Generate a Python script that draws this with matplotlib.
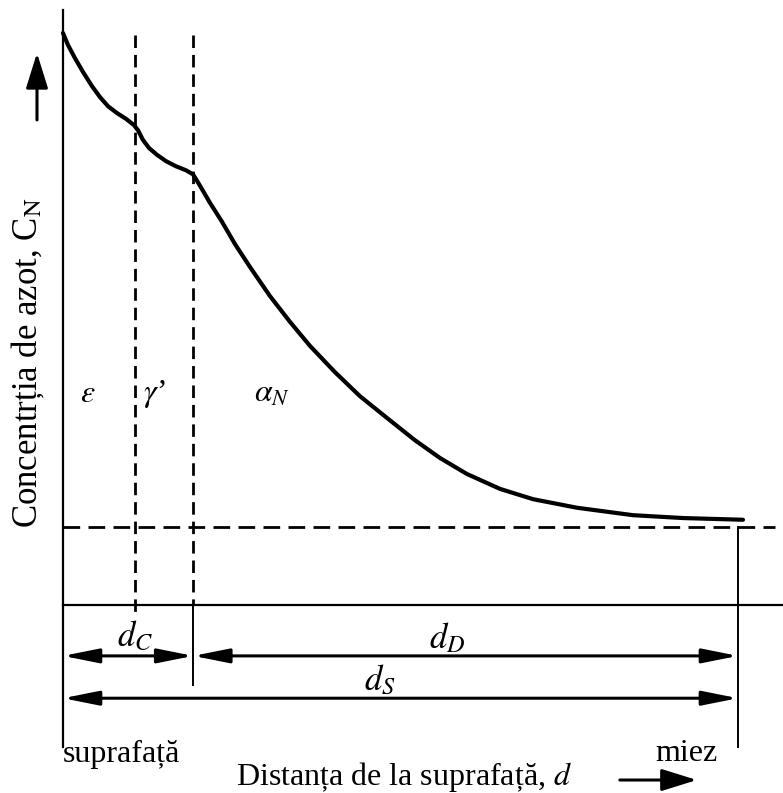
import numpy as np
import matplotlib
matplotlib.use("Agg")
import matplotlib.pyplot as plt

plt.rcParams['font.family'] = ['Liberation Serif', 'DejaVu Serif']
plt.rcParams['mathtext.fontset'] = 'stix'

# nitrogen profile: distance from surface (d_S = 100) vs concentration (surface = 100)
distance = [0, 0.74, 1.78, 2.96, 4.30, 5.48, 6.67, 8.0, 9.33, 10.52,
            11.11, 11.85, 12.74, 13.93, 15.26, 16.74, 18.22, 19.26,
            20.3, 21.78, 23.56, 25.48, 27.7, 30.67, 33.63, 36.59, 40.3, 44.0,
            48.0, 52.15, 55.85, 59.85, 64.74, 69.63, 76.15, 84.44, 91.85, 100.74]
concentration = [100.0, 97.9, 95.6, 93.2, 90.7, 88.8, 87.2, 86.0, 85.0, 83.9,
                 83.0, 81.3, 79.9, 78.7, 77.6, 76.7, 76.0, 75.3,
                 73.3, 70.3, 67.0, 63.1, 59.1, 54.0, 49.5, 45.3, 40.7, 36.5,
                 32.7, 28.8, 25.7, 22.9, 20.3, 18.5, 17.0, 15.7, 15.2, 14.9]

d_eps = 10.6      # end of epsilon layer
d_comp = 19.3     # end of compound layer (d_C)
d_core = 100.0    # d_S
c_core = 13.6     # core concentration

phases = ['$\\varepsilon$', '$\\gamma$’', '$\\alpha_N$']
phase_x = [3.7, 13.6, 31.0]

fig = plt.figure(figsize=(7.83, 7.93), dpi=100)
ax = fig.add_axes([0, 0, 1, 1])
ax.set_xlim(-9.33, 106.67)
ax.set_ylim(-32.87, 105.77)
ax.axis('off')

k = dict(color='black')

# axes of the sketch
ax.plot([0, 0], [104, -24.8], lw=1.6, **k)
ax.plot([0, 106.67], [0, 0], lw=1.6, **k)
ax.plot([d_core, d_core], [c_core, -24.8], lw=1.4, **k)
ax.plot([0, 105.5], [c_core, c_core], lw=2, ls=(0, (6, 3)), **k)

# layer boundaries
ax.plot([d_eps, d_eps], [99.7, -1.7], lw=2, ls=(0, (4.5, 2.5)), **k)
ax.plot([d_comp, d_comp], [99.7, 0], lw=2, ls=(0, (4.5, 2.5)), **k)
ax.plot([d_comp, d_comp], [0, -14], lw=1.4, **k)

# profile
ax.plot(distance, concentration, lw=3, solid_capstyle='round', solid_joinstyle='round', **k)

for lab, x in zip(phases, phase_x):
    ax.text(x, 36.8, lab, fontsize=23, ha='center', va='center')

# dimension arrows
dim = dict(arrowstyle='<|-|>,head_length=0.8,head_width=0.16', lw=2.2, color='black',
           mutation_scale=27, shrinkA=0, shrinkB=0)
ax.annotate('', xy=(d_comp, -8.9), xytext=(0, -8.9), arrowprops=dim)
ax.annotate('', xy=(d_core, -8.9), xytext=(d_comp, -8.9), arrowprops=dim)
ax.annotate('', xy=(d_core, -16.3), xytext=(0, -16.3), arrowprops=dim)
ax.text(10.7, -5.6, '$d_C$', fontsize=25, ha='center', va='center')
ax.text(56.9, -5.9, '$d_D$', fontsize=25, ha='center', va='center')
ax.text(47.0, -13.3, '$d_S$', fontsize=25, ha='center', va='center')

ax.text(0, -26.2, 'suprafață', fontsize=23, ha='left', va='center')
ax.text(92.4, -25.9, 'miez', fontsize=23, ha='center', va='center')
ax.text(75.4, -31.4, 'Distanța de la suprafață, $d$', fontsize=23, ha='right', va='baseline')

one = dict(arrowstyle='-|>,head_length=0.8,head_width=0.25', lw=2.2, color='black',
           mutation_scale=27, shrinkA=0, shrinkB=0)
ax.annotate('', xy=(93.9, -30.6), xytext=(82.5, -30.6), arrowprops=one)
ax.annotate('', xy=(-3.85, 96.5), xytext=(-3.85, 84.8), arrowprops=one)

ax.text(-5.2, 42.3, 'Concentrția de azot, C$_\\mathrm{N}$', fontsize=25, rotation=90,
        ha='center', va='center')

fig.savefig('out.png', dpi=100)
